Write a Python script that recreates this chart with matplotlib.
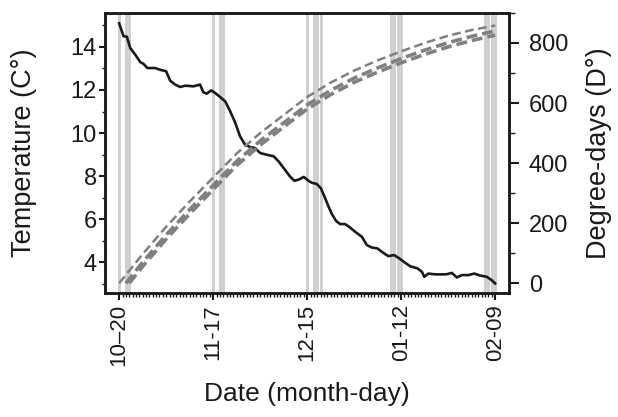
import matplotlib
matplotlib.use("Agg")
import matplotlib.pyplot as plt
from matplotlib.ticker import FixedLocator, MultipleLocator

plt.rcParams['font.family'] = ['Liberation Sans', 'DejaVu Sans']

# Temperature series (day offset from 10-20, temperature in C)
temp_days = [0, 1.3, 2.3, 3.3, 4.8, 6.3, 7.2, 8.4, 10.7, 12.2, 14, 15.2, 16.7, 18.2, 19.7,
             22.1, 24.1, 25.1, 26.1, 27.4, 28.6, 30.1, 31.6, 33.1, 34.6, 36, 37.5, 39, 40.5,
             42, 44, 46, 47.5, 49.4, 50.9, 52.2, 53.4, 55, 56.5, 57.4, 58.9, 60.1, 61.4,
             62.4, 63.4, 64.6, 65.8, 67.3, 68.8, 70.3, 72.3, 73.8, 75.3, 76.9, 78.7, 80.2,
             81.9, 83.5, 85.2, 86.7, 88.9, 90.2, 90.9, 92.1, 93.6, 95.6, 97.6, 99.1, 100.6,
             102.1, 104.1, 105.8, 107.5, 109.5, 111, 112]
temps = [15.1, 14.5, 14.47, 13.95, 13.64, 13.29, 13.22, 13.02, 13.02, 12.94, 12.87, 12.43,
         12.25, 12.14, 12.2, 12.17, 12.25, 11.89, 11.83, 11.98, 11.86, 11.67, 11.47, 11.0,
         10.47, 9.85, 9.46, 9.35, 9.3, 9.07, 8.99, 8.92, 8.68, 8.29, 7.98, 7.78, 7.83, 7.96,
         7.77, 7.69, 7.63, 7.43, 6.96, 6.57, 6.23, 5.92, 5.77, 5.77, 5.61, 5.41, 5.18, 4.79,
         4.68, 4.64, 4.43, 4.28, 4.33, 4.17, 3.97, 3.81, 3.71, 3.55, 3.32, 3.47, 3.44, 3.43,
         3.44, 3.5, 3.29, 3.4, 3.4, 3.47, 3.38, 3.32, 3.16, 3.01]

# Degree-day curves
dd_days_a = [0, 7, 14, 21, 28, 35, 42, 49, 56, 63, 70, 77, 84, 91, 98, 105, 112]
dd_a = [0, 97, 188, 272, 352, 432, 500, 560, 620, 668, 708, 742, 772, 800, 824, 843, 858]
dd_days_b = [2, 7, 14, 21, 28, 35, 42, 49, 56, 63, 70, 77, 84, 91, 98, 105, 112]
dd_b = [0, 70, 161, 245, 326, 406, 474, 534, 594, 642, 683, 717, 748, 776, 801, 822, 840]
dd_days_c = [3, 7, 14, 21, 28, 35, 42, 49, 56, 63, 70, 77, 84, 91, 98, 105, 112]
dd_c = [0, 56, 147, 231, 312, 392, 460, 520, 580, 628, 669, 703, 734, 762, 787, 808, 826]

# Vertical marker days
marker_days = [0, 2, 3, 28, 30, 31, 56, 58, 59, 60, 81, 82, 83, 84, 109, 110, 111, 112]

tick_days = [0, 28, 56, 84, 112]
tick_labels = ['10\u201320', '11-17', '12-15', '01-12', '02-09']

ink = '#1a1a1a'

fig = plt.figure(figsize=(6.18, 4.17), dpi=100)
ax = fig.add_axes([0.170, 0.297, 0.654, 0.672])
ax2 = ax.twinx()

for d in marker_days:
    ax.axvline(d, color='#cdcdcd', lw=2.0, zorder=0)

ax.plot(temp_days, temps, color=ink, lw=1.9, zorder=3)

ax2.plot(dd_days_a, dd_a, color='#808080', lw=1.8, ls=(0, (3.5, 1.8)))
ax2.plot(dd_days_b, dd_b, color='#808080', lw=2.6, ls=(0, (3.0, 1.4)))
ax2.plot(dd_days_c, dd_c, color='#808080', lw=2.6, ls=(0, (3.0, 1.4)))

ax.set_xlim(-4.2, 116.2)
ax.set_ylim(2.56, 15.58)
ax2.set_ylim(-33, 900)

ax.xaxis.set_major_locator(FixedLocator(tick_days))
ax.set_xticklabels(tick_labels, rotation=90)
ax.xaxis.set_minor_locator(FixedLocator(list(range(0, 113))))
ax.yaxis.set_major_locator(MultipleLocator(2))
ax.yaxis.set_minor_locator(MultipleLocator(1))
ax2.yaxis.set_major_locator(MultipleLocator(200))
ax2.yaxis.set_minor_locator(MultipleLocator(100))

for a in (ax, ax2):
    for s in a.spines.values():
        s.set_linewidth(1.8)
        s.set_color(ink)

ax.tick_params(axis='y', which='major', direction='out', length=4, width=1.5, labelsize=17,
               pad=2, color=ink, labelcolor=ink)
ax.tick_params(axis='y', which='minor', direction='out', length=2.5, width=1.0, color=ink)
ax.tick_params(axis='x', which='major', direction='out', length=5, width=1.5, labelsize=16,
               pad=3, color=ink, labelcolor=ink)
ax.tick_params(axis='x', which='minor', direction='out', length=3, width=1.0, color=ink)
ax2.tick_params(axis='y', which='major', direction='out', length=7, width=1.5, labelsize=17,
                pad=7, color=ink, labelcolor=ink)
ax2.tick_params(axis='y', which='minor', direction='out', length=4.5, width=1.0, color=ink)

ax.set_xlabel('Date (month-day)', fontsize=19, labelpad=11, color=ink)
ax.set_ylabel('Temperature (C\u00b0)', fontsize=19.5, labelpad=24, color=ink)
ax2.set_ylabel('Degree-days (D\u00b0)', fontsize=19.5, labelpad=13, color=ink)

fig.savefig('out.png', dpi=100)
